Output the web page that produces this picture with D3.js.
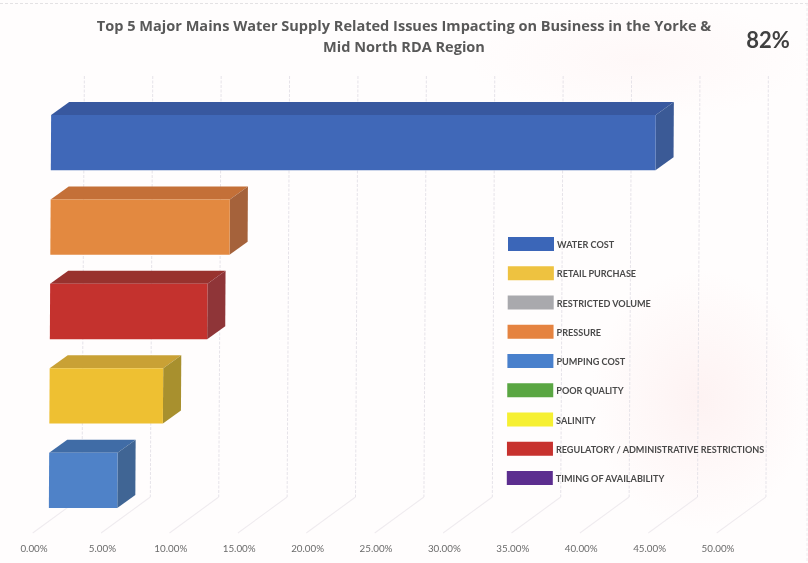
<!DOCTYPE html>
<html><head><meta charset="utf-8">
<script src="https://cdn.jsdelivr.net/npm/d3@7"></script>
<style>html,body{margin:0;padding:0;background:#fff}svg{display:block}text{font-family:Lato,"Open Sans",sans-serif}</style>
</head><body><div id="chart"></div>
<script>
const titleLines = ["Top 5 Major Mains Water Supply Related Issues Impacting on Business in the Yorke &", "Mid North RDA Region"];
const callout = "82%";
const tickValues = [0,5,10,15,20,25,30,35,40,45,50];
const barNames = ["WATER COST","PRESSURE","REGULATORY / ADMINISTRATIVE RESTRICTIONS","RETAIL PURCHASE","PUMPING COST"];
const barValues = [44.2,13.1,11.5,8.3,5.0];
const legendNames = ["WATER COST","RETAIL PURCHASE","RESTRICTED VOLUME","PRESSURE","PUMPING COST","POOR QUALITY","SALINITY","REGULATORY / ADMINISTRATIVE RESTRICTIONS","TIMING OF AVAILABILITY"];
const legendColors = ["#3a66b8","#eec23f","#a9a9ad","#e5833f","#4a80cc","#5aa643","#f6f032","#c7302f","#5b2f8f"];
const barFront = {"WATER COST":"#3f68b8","PRESSURE":"#e3893f","REGULATORY / ADMINISTRATIVE RESTRICTIONS":"#c4312f","RETAIL PURCHASE":"#eec033","PUMPING COST":"#4f82c8"};
const barTop = {"WATER COST":"#38599f","PRESSURE":"#c47039","REGULATORY / ADMINISTRATIVE RESTRICTIONS":"#98302f","RETAIL PURCHASE":"#c9a136","PUMPING COST":"#3f6ca6"};
const barSide = {"WATER COST":"#3b5a96","PRESSURE":"#a5623a","REGULATORY / ADMINISTRATIVE RESTRICTIONS":"#8f3538","RETAIL PURCHASE":"#a8902f","PUMPING COST":"#3f6594"};

const W=808,H=563;
const svg=d3.select("#chart").append("svg").attr("width",W).attr("height",H);
const defs=svg.append("defs");
defs.append("filter").attr("id","scan").append("feGaussianBlur").attr("stdDeviation",0.5);
const grad=defs.append("radialGradient").attr("id","pink");
grad.append("stop").attr("offset","0%").attr("stop-color","#fdeeee").attr("stop-opacity",0.7);
grad.append("stop").attr("offset","100%").attr("stop-color","#fdeeee").attr("stop-opacity",0);

const root=svg.append("g").attr("filter","url(#scan)");
root.append("rect").attr("width",W).attr("height",H).attr("fill","#fffdfd");
root.append("ellipse").attr("cx",700).attr("cy",400).attr("rx",110).attr("ry",130).attr("fill","url(#pink)");
root.append("ellipse").attr("cx",640).attr("cy",60).attr("rx",170).attr("ry",60).attr("fill","url(#pink)").attr("opacity",0.5);
root.append("line").attr("x1",0).attr("x2",W).attr("y1",3.5).attr("y2",3.5).attr("stroke","#e4e2e4").attr("stroke-dasharray","3 2");
root.append("line").attr("x1",807).attr("x2",807).attr("y1",3).attr("y2",H).attr("stroke","#eeeaee").attr("stroke-dasharray","3 2");

const xWall=d3.scaleLinear().domain([0,50]).range([84,768]);
const xFront=d3.scaleLinear().domain([0,50]).range([51,735]);
const xFloor=d3.scaleLinear().domain([0,50]).range([34,718]);
const yRow=d3.scaleBand().domain(barNames).range([115,508]).paddingInner(0.345).paddingOuter(0);
const wallTop=76,wallBottom=497,floorY=533,dx=18,dy=-13;
const plot=root.append("g").attr("transform","matrix(1,0,-0.0058,1,0.8,0)");

plot.selectAll("line.grid").data(tickValues).join("line").attr("class","grid")
  .attr("x1",d=>xWall(d)).attr("x2",d=>xWall(d)).attr("y1",wallTop).attr("y2",wallBottom)
  .attr("stroke","#e6e3e9").attr("stroke-width",1).attr("stroke-dasharray","3 1.5");
plot.selectAll("line.floor").data(tickValues).join("line").attr("class","floor")
  .attr("x1",d=>xWall(d)).attr("x2",d=>xFloor(d)+1).attr("y1",wallBottom).attr("y2",floorY)
  .attr("stroke","#efebef").attr("stroke-width",1);

const bars=plot.selectAll("g.bar").data(barNames.map((n,i)=>({n,v:barValues[i]}))).join("g").attr("class","bar");
const poly=(pts)=>pts.map(p=>p.join(",")).join(" ");
bars.append("polygon").attr("fill",d=>barTop[d.n]).attr("points",d=>{const x0=xFront(0),x1=xFront(d.v),y=yRow(d.n);
  return poly([[x0,y],[x0+dx,y+dy],[x1+dx,y+dy],[x1,y]]);});
bars.append("polygon").attr("fill",d=>barSide[d.n]).attr("points",d=>{const x1=xFront(d.v),y=yRow(d.n),b=y+yRow.bandwidth();
  return poly([[x1,y],[x1+dx,y+dy],[x1+dx,b+dy],[x1,b]]);});
bars.append("rect").attr("fill",d=>barFront[d.n]).attr("x",xFront(0)).attr("y",d=>yRow(d.n))
  .attr("width",d=>xFront(d.v)-xFront(0)).attr("height",yRow.bandwidth());

root.selectAll("text.tick").data(tickValues).join("text").attr("class","tick")
  .attr("x",d=>xFloor(d)).attr("y",552).attr("text-anchor","middle").attr("font-size",9.8).attr("fill","#6a6a6a")
  .text(d=>d3.format(".2f")(d)+"%");

root.selectAll("text.title").data(titleLines).join("text").attr("class","title")
  .attr("x",404).attr("y",(d,i)=>31+i*21).attr("text-anchor","middle").attr("font-size",14.55).attr("font-weight",700)
  .attr("fill","#595959").style("font-family","'Open Sans',sans-serif").text(d=>d);
root.append("text").attr("x",768).attr("y",48).attr("text-anchor","middle").attr("font-size",22).attr("font-weight",700).attr("fill","#404040").text(callout);

const yLeg=d3.scalePoint().domain(legendNames).range([237,471]);
const leg=root.selectAll("g.leg").data(legendNames).join("g").attr("class","leg");
leg.append("rect").attr("x",(d,i)=>508-i*0.15).attr("y",d=>yLeg(d)).attr("width",46).attr("height",14).attr("fill",(d,i)=>legendColors[i]);
leg.append("text").attr("x",(d,i)=>557-i*0.15).attr("y",d=>yLeg(d)+11).attr("font-size",9.1).attr("font-weight",700).attr("fill","#4a4a4a").text(d=>d);
</script></body></html>
